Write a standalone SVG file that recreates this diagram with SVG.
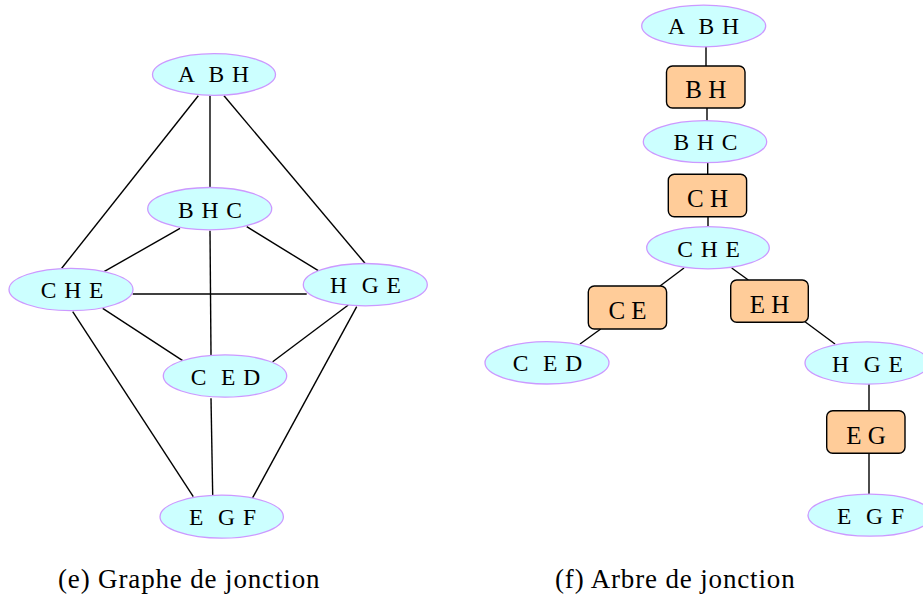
<svg xmlns="http://www.w3.org/2000/svg" width="923" height="599" viewBox="0 0 923 599">
  <style>
    .clique ellipse { fill: #ccffff; stroke: #cc99ff; stroke-width: 1.3; }
    .clique text { font-size: 23.5px; letter-spacing: 1px; text-anchor: middle; white-space: pre; fill: #000; }
    .sep rect { fill: #ffcc99; stroke: #000; stroke-width: 1.4; }
    .sep text { font-size: 25px; text-anchor: middle; fill: #000; }
    .edges line { stroke: #000; stroke-width: 1.4; }
    .caption { font-size: 27px; letter-spacing: 0.85px; fill: #000; }
  </style>

  <rect width="923" height="599" fill="#ffffff"/>

  <g font-family="Liberation Serif, DejaVu Serif, serif">
  <!-- (e) junction graph: edges -->
  <g id="graph-edges" class="edges">
    <line x1="198.3" y1="95.7" x2="61.7" y2="268.3"/>
    <line x1="210" y1="95.7" x2="210" y2="187.7"/>
    <line x1="224" y1="95.7" x2="365" y2="263.3"/>
    <line x1="180" y1="228.3" x2="104" y2="271.7"/>
    <line x1="246.7" y1="226.7" x2="318.3" y2="270.7"/>
    <line x1="210" y1="230.7" x2="211" y2="355"/>
    <line x1="132.7" y1="294" x2="306.7" y2="294"/>
    <line x1="102.7" y1="308.3" x2="182.7" y2="360.7"/>
    <line x1="72.7" y1="311.7" x2="193.3" y2="496.7"/>
    <line x1="348.3" y1="305" x2="272.7" y2="361.7"/>
    <line x1="356.7" y1="306.7" x2="252.3" y2="498.3"/>
    <line x1="211" y1="398.3" x2="212.7" y2="495"/>
  </g>

  <!-- (e) junction graph: cliques -->
  <g id="g-ABH" class="clique">
    <ellipse cx="214" cy="74.5" rx="61.5" ry="20.8"/>
    <text x="214" y="82">A  B H</text>
  </g>
  <g id="g-BHC" class="clique">
    <ellipse cx="209.7" cy="208.7" rx="62" ry="21.2"/>
    <text x="210.5" y="217.5">B H C</text>
  </g>
  <g id="g-CHE" class="clique">
    <ellipse cx="71" cy="289.5" rx="62" ry="21.2"/>
    <text x="72.5" y="298">C H E</text>
  </g>
  <g id="g-HGE" class="clique">
    <ellipse cx="365.3" cy="284.7" rx="62" ry="21.2"/>
    <text x="366" y="293">H  G E</text>
  </g>
  <g id="g-CED" class="clique">
    <ellipse cx="225" cy="376" rx="61.7" ry="21.2"/>
    <text x="226" y="384.5">C  E D</text>
  </g>
  <g id="g-EGF" class="clique">
    <ellipse cx="221.7" cy="516.7" rx="61.7" ry="21.5"/>
    <text x="223" y="525">E  G F</text>
  </g>

  <!-- (f) junction tree: edges -->
  <g id="tree-edges" class="edges">
    <line x1="706" y1="46" x2="706" y2="66"/>
    <line x1="707" y1="108" x2="707" y2="121"/>
    <line x1="707.7" y1="162" x2="707.7" y2="174"/>
    <line x1="708" y1="217" x2="708" y2="227"/>
    <line x1="684" y1="268" x2="660" y2="286"/>
    <line x1="600.7" y1="329" x2="580" y2="344"/>
    <line x1="731.7" y1="268" x2="748.3" y2="280"/>
    <line x1="805" y1="321.7" x2="835" y2="344"/>
    <line x1="869" y1="384" x2="869" y2="411"/>
    <line x1="869" y1="453" x2="869" y2="494"/>
  </g>

  <!-- (f) junction tree: cliques and separators -->
  <g id="t-ABH" class="clique">
    <ellipse cx="703.7" cy="26" rx="62" ry="20.8"/>
    <text x="704" y="34">A  B H</text>
  </g>
  <g id="t-BH" class="sep">
    <rect x="666.5" y="66" width="78.5" height="42" rx="6"/>
    <text x="705.7" y="98">B H</text>
  </g>
  <g id="t-BHC" class="clique">
    <ellipse cx="705" cy="141.7" rx="61.7" ry="21"/>
    <text x="706" y="150">B H C</text>
  </g>
  <g id="t-CH" class="sep">
    <rect x="668.3" y="174.3" width="78.3" height="42.4" rx="6"/>
    <text x="707.5" y="206.5">C H</text>
  </g>
  <g id="t-CHE" class="clique">
    <ellipse cx="708" cy="247.8" rx="61.3" ry="21.1"/>
    <text x="709" y="256.5">C H E</text>
  </g>
  <g id="t-CE" class="sep">
    <rect x="588.3" y="286" width="78.3" height="43" rx="6"/>
    <text x="627.5" y="319">C E</text>
  </g>
  <g id="t-EH" class="sep">
    <rect x="730.7" y="280" width="77.6" height="42.3" rx="6"/>
    <text x="769.5" y="312.5">E H</text>
  </g>
  <g id="t-CED" class="clique">
    <ellipse cx="547" cy="362.8" rx="62" ry="21.2"/>
    <text x="548" y="371.3">C  E D</text>
  </g>
  <g id="t-HGE" class="clique">
    <ellipse cx="867" cy="363" rx="62" ry="21.2"/>
    <text x="868" y="371.5">H  G E</text>
  </g>
  <g id="t-EG" class="sep">
    <rect x="826.7" y="410.7" width="78.3" height="42.6" rx="6"/>
    <text x="866" y="443.5">E G</text>
  </g>
  <g id="t-EGF" class="clique">
    <ellipse cx="870" cy="515.2" rx="62" ry="21"/>
    <text x="871" y="523.5">E  G F</text>
  </g>

  <!-- captions -->
  <text class="caption" x="58" y="588">(e) Graphe de jonction</text>
  <text class="caption" x="555" y="588">(f) Arbre de jonction</text>
  </g>
</svg>
